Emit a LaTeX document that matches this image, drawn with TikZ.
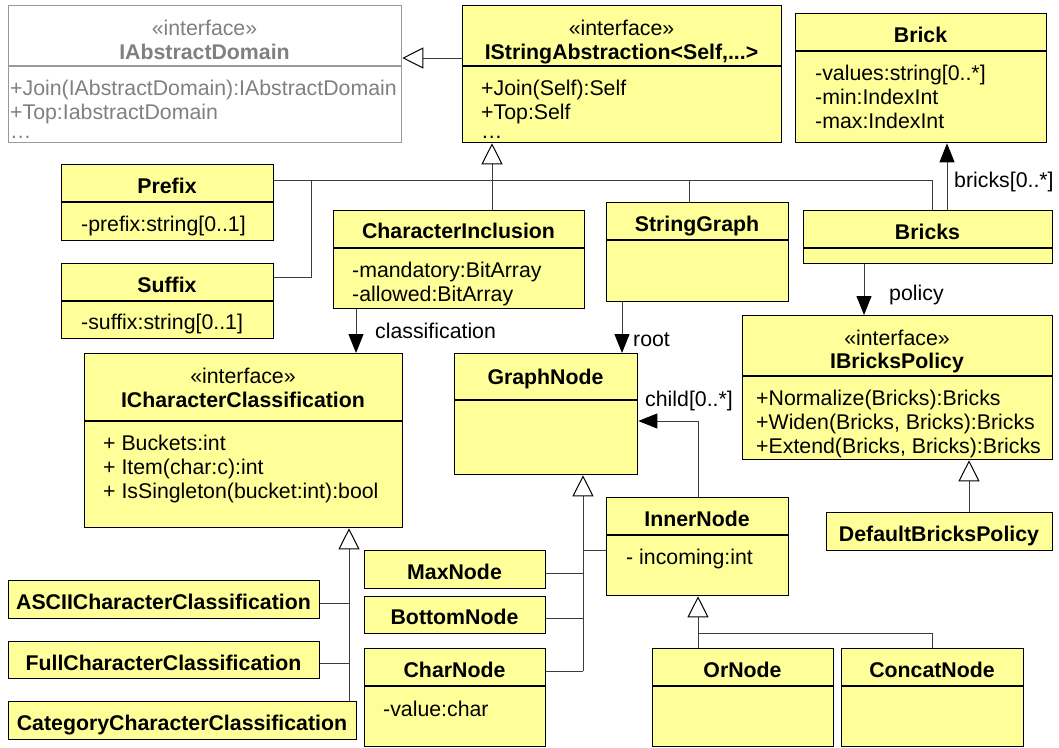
\documentclass[tikz,border=0pt]{standalone}
\usepackage{fontspec}
\setmainfont{Liberation Sans}
\usetikzlibrary{arrows.meta}
\definecolor{umlyellow}{RGB}{255,255,153}
\definecolor{lncol}{RGB}{60,60,60}
\newcommand\umlbox[6][]{\node[cls,#1,anchor=north west,minimum width={#4-#2},minimum height={#5-#3}] (#6) at (#2,#3) {};}
\newcommand\umldiv[3][]{\draw[divline,#1] (#2.west |- 0,#3) -- (#2.east |- 0,#3);}
\begin{document}
\begin{tikzpicture}[x=1pt,y=-1pt,
  cls/.style={draw=black, fill=umlyellow, line width=1.3pt, rectangle, inner sep=0pt},
  graycls/.style={draw=black!40, fill=white},
  divline/.style={draw=black, line width=1.3pt},
  txt/.style={inner sep=0pt, font=\fontsize{21.3}{24}\selectfont, anchor=base},
  attr/.style={txt, anchor=base west},
  ttl/.style={txt, font=\fontsize{21.3}{24}\selectfont\bfseries},
  ln/.style={draw=lncol, line width=1pt},
  gen/.style={ln, -{Triangle[width=21pt,length=21pt,color=black,fill=white]}},
  assoc/.style={ln, -{Triangle[width=15pt,length=19pt,color=black]}},
  lbl/.style={txt, anchor=base west}]
\fill[white] (0,0) rectangle (1059,747);
\useasboundingbox (0,0) rectangle (1059,747);

% boxes
\umlbox[graycls]{8}{5}{401}{142}{iad}
\umldiv[draw=black!40]{iad}{66}
\umlbox{462}{5}{781}{142}{istr}
\umldiv{istr}{66}
\umlbox{795}{13}{1046}{142}{brick}
\umldiv{brick}{51}
\umlbox{61}{164}{273}{240}{prefix}
\umldiv{prefix}{202}
\umlbox{61}{263}{273}{338}{suffix}
\umldiv{suffix}{301}
\umlbox{333}{210}{584}{308}{chincl}
\umldiv{chincl}{248}
\umlbox{606}{202}{788}{301}{sgraph}
\umldiv{sgraph}{240}
\umlbox{803}{210}{1052}{263}{bricks}
\umldiv{bricks}{248}
\umlbox{742}{315}{1052}{459}{ibp}
\umldiv{ibp}{376}
\umlbox{826}{512}{1052}{550}{dbp}
\umlbox{84}{353}{402}{527}{icc}
\umldiv{icc}{421}
\umlbox{454}{353}{637}{474}{gnode}
\umldiv{gnode}{400}
\umlbox{606}{497}{788}{595}{inode}
\umldiv{inode}{535}
\umlbox{364}{550}{545}{588}{maxn}
\umlbox{364}{596}{545}{633}{botn}
\umlbox{364}{648}{545}{746}{charn}
\umldiv{charn}{686}
\umlbox{652}{648}{833}{746}{orn}
\umldiv{orn}{686}
\umlbox{841}{648}{1023}{746}{catn}
\umldiv{catn}{686}
\umlbox{8}{580}{319}{618}{ascii}
\umlbox{8}{641}{319}{678}{full}
\umlbox{8}{701}{356}{739}{categ}

% bend points
\coordinate (tA) at (492,180);
\coordinate (tB) at (932,180);
\coordinate (tC) at (689,180);
\coordinate (tD) at (311,180);
\coordinate (tE) at (311,277);
\coordinate (bA) at (947,200);
\coordinate (pA) at (864,290);
\coordinate (dA) at (969,490);
\coordinate (cA) at (356,330);
\coordinate (rA) at (622,330);
\coordinate (chA) at (698,421);
\coordinate (sA) at (349,560);
\coordinate (sB) at (349,603);
\coordinate (sC) at (349,663);
\coordinate (gB) at (583,671);
\coordinate (gC) at (583,550);
\coordinate (gD) at (583,573);
\coordinate (gE) at (583,618);
\coordinate (iA) at (698,633);
\coordinate (iB) at (932,633);
\coordinate (gL) at (462,58);

% connectors
\draw[gen] (gL) -- (gL -| iad.east);
\draw[gen] (tA) -- (tA |- istr.south);
\draw[ln] (prefix.east |- tA) -- (tB) -- (tB |- bricks.north);
\draw[ln] (tA) -- (tA |- chincl.north);
\draw[ln] (tC) -- (tC |- sgraph.north);
\draw[ln] (tD) -- (tE) -- (tE -| suffix.east);
\draw[assoc] (bA |- bricks.north) -- (bA |- brick.south);
\draw[assoc] (pA |- bricks.south) -- (pA |- ibp.north);
\draw[gen] (dA |- dbp.north) -- (dA |- ibp.south);
\draw[assoc] (cA |- chincl.south) -- (cA |- icc.north);
\draw[assoc] (rA |- sgraph.south) -- (rA |- gnode.north);
\draw[assoc] (chA |- inode.north) -- (chA) -- (chA -| gnode.east);
\draw[gen] (sA |- categ.north) -- (sA |- icc.south);
\draw[ln] (sB -| ascii.east) -- (sB);
\draw[ln] (sC -| full.east) -- (sC);
\draw[gen] (gB) -- (gB |- gnode.south);
\draw[ln] (gC) -- (gC -| inode.west);
\draw[ln] (gD -| maxn.east) -- (gD);
\draw[ln] (gE -| botn.east) -- (gE);
\draw[ln] (gB -| charn.east) -- (gB);
\draw[gen] (iA |- orn.north) -- (iA |- inode.south);
\draw[ln] (iA) -- (iB) -- (iB |- catn.north);

% texts
\node[txt, text=black!50] (iadS) at (204.5,35.5) {«interface»};
\node[ttl, text=black!50] (iadT) at (204.5,59.5) {IAbstractDomain};
\node[attr, text=black!50] (iadA1) at (10,95.5) {+Join(IAbstractDomain):IAbstractDomain};
\node[attr, text=black!50] (iadA2) at (10,119.5) {+Top:IabstractDomain};
\node[attr, text=black!50] (iadA3) at (10,138) {…};

\node[txt] (istrS) at (621.5,35.5) {«interface»};
\node[ttl] (istrT) at (621.5,59.5) {IStringAbstraction<Self,...>};
\node[attr] (istrA1) at (481,95.5) {+Join(Self):Self};
\node[attr] (istrA2) at (481,119.5) {+Top:Self};
\node[attr] (istrA3) at (481,138) {…};

\node[ttl] (brickT) at (920.5,42.5) {Brick};
\node[attr] (brickA1) at (815,80.5) {-values:string[0..*]};
\node[attr] (brickA2) at (815,104.5) {-min:IndexInt};
\node[attr] (brickA3) at (815,128.5) {-max:IndexInt};

\node[ttl] (prefixT) at (167,193.5) {Prefix};
\node[attr] (prefixA) at (81,231.5) {-prefix:string[0..1]};
\node[ttl] (suffixT) at (167,292.5) {Suffix};
\node[attr] (suffixA) at (81,329.5) {-suffix:string[0..1]};

\node[ttl] (chinclT) at (458.5,238.5) {CharacterInclusion};
\node[attr] (chinclA1) at (352,277.5) {-mandatory:BitArray};
\node[attr] (chinclA2) at (352,301.5) {-allowed:BitArray};

\node[ttl] (sgraphT) at (697,231.5) {StringGraph};
\node[ttl] (bricksT) at (927.5,239.5) {Bricks};

\node[txt] (ibpS) at (897,345.5) {«interface»};
\node[ttl] (ibpT) at (897,368.5) {IBricksPolicy};
\node[attr] (ibpA1) at (756,405.5) {+Normalize(Bricks):Bricks};
\node[attr] (ibpA2) at (756,429.5) {+Widen(Bricks, Bricks):Bricks};
\node[attr] (ibpA3) at (756,453.5) {+Extend(Bricks, Bricks):Bricks};
\node[ttl] (dbpT) at (939,541.5) {DefaultBricksPolicy};

\node[txt] (iccS) at (243,383.5) {«interface»};
\node[ttl] (iccT) at (243,407.5) {ICharacterClassification};
\node[attr] (iccA1) at (103,450.5) {+ Buckets:int};
\node[attr] (iccA2) at (103,474.5) {+ Item(char:c):int};
\node[attr] (iccA3) at (103,498.5) {+ IsSingleton(bucket:int):bool};

\node[ttl] (gnodeT) at (545.5,384) {GraphNode};
\node[ttl] (inodeT) at (697,526) {InnerNode};
\node[attr] (inodeA) at (626,564.5) {- incoming:int};
\node[ttl] (maxnT) at (454.5,579.5) {MaxNode};
\node[ttl] (botnT) at (454.5,624) {BottomNode};
\node[ttl] (charnT) at (454.5,677) {CharNode};
\node[attr] (charnA) at (383,716) {-value:char};
\node[ttl] (ornT) at (742.5,677) {OrNode};
\node[ttl] (catnT) at (932,677) {ConcatNode};
\node[ttl] (asciiT) at (163.5,609.5) {ASCIICharacterClassification};
\node[ttl] (fullT) at (163.5,670.5) {FullCharacterClassification};
\node[ttl] (categT) at (182,730) {CategoryCharacterClassification};

% labels
\node[lbl] (lclass) at (375,338) {classification};
\node[lbl] (lroot) at (633,346) {root};
\node[lbl] (lbricks) at (954,187) {bricks[0..*]};
\node[lbl] (lpolicy) at (889,300) {policy};
\node[lbl] (lchild) at (645,406) {child[0..*]};
\end{tikzpicture}
\end{document}
